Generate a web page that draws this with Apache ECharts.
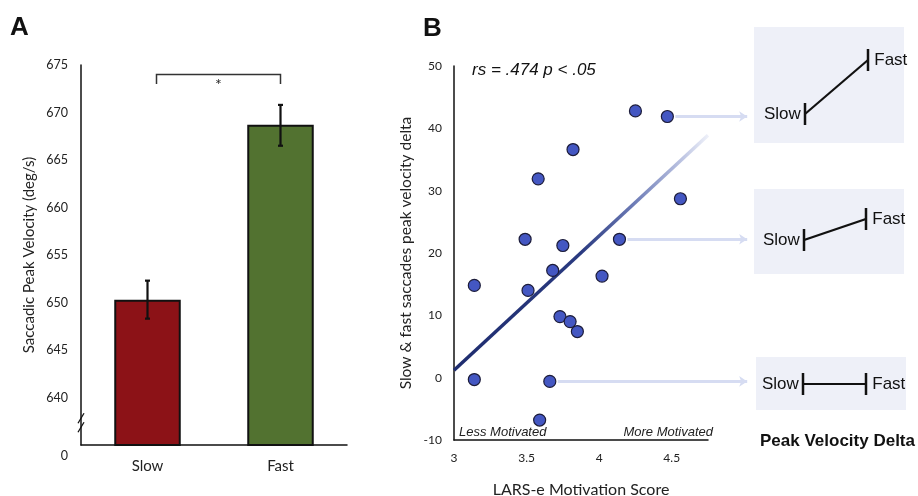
<!DOCTYPE html>
<html>
<head>
<meta charset="utf-8">
<script src="https://cdn.jsdelivr.net/npm/echarts@6/dist/echarts.min.js"></script>
<style>
  html, body { margin: 0; padding: 0; background: #fff; }
  #main { width: 918px; height: 496px; }
</style>
</head>
<body>
<div id="main"></div>
<script>
// 面板A：平均峰值速度
var groups = ['Slow', 'Fast'];
var meanVel = [650.3, 668.7];
var errLow = [648.3, 666.5];
var errHigh = [652.3, 670.8];
var barColors = ['#8c1217', '#527230'];

// 面板B：散点 (LARS-e, delta)
var scoreX = [4.25, 4.47, 3.82, 3.58, 4.56, 3.49, 3.75, 4.14, 3.68, 4.02, 3.14, 3.51, 3.73, 3.80, 3.85, 3.14, 3.66, 3.59];
var deltaY = [42.8, 41.9, 36.6, 31.9, 28.7, 22.2, 21.2, 22.2, 17.2, 16.3, 14.8, 14.0, 9.8, 9.0, 7.4, -0.3, -0.6, -6.8];
var fitLine = [[3, 1.2], [4.75, 38.9]];
var arrowFrom = [1, 7, 16];   // 指向右侧小图的点
var arrowEndX = 5.02;

// 右侧小图
var insetDeltas = [42, 22, 0];

var chart = echarts.init(document.getElementById('main'));

var pts = scoreX.map(function(x, i) { return [x, deltaY[i]]; });

var axisFont = 'Lato';
var arialFont = '"Liberation Sans", Arial, sans-serif';

// 小图 grid
var insetGrids = [
	{ left: 805, top: 60, width: 63, height: 54 },
	{ left: 804, top: 219, width: 62, height: 21 },
	{ left: 803, top: 374, width: 63, height: 20 }
];

var grids = [
	{ left: 81, top: 65, width: 266, height: 380 },
	{ left: 454, top: 66, width: 254, height: 374 }
].concat(insetGrids);
grids.forEach(function(g) { g.outerBoundsMode = 'none'; g.containLabel = false; });

var xAxes = [
	{
		gridIndex: 0, type: 'category', data: groups,
		axisTick: { show: false },
		axisLine: { lineStyle: { color: '#111', width: 1.5 } },
		axisLabel: { color: '#222', fontSize: 15, fontFamily: axisFont, margin: 14 }
	},
	{
		gridIndex: 1, type: 'value', min: 3, max: 4.75, interval: 0.5,
		splitLine: { show: false }, axisTick: { show: false },
		axisLine: { onZero: false, lineStyle: { color: '#111', width: 1.5 } },
		axisLabel: {
			color: '#222', fontSize: 12, fontFamily: axisFont, margin: 12,
			formatter: function(v) { return v > 4.6 ? '' : String(v); }
		},
		name: 'LARS-e Motivation Score', nameLocation: 'middle', nameGap: 42,
		nameTextStyle: { color: '#222', fontSize: 16, fontFamily: axisFont }
	}
];
var yAxes = [
	{
		gridIndex: 0, type: 'value', min: 635, max: 675, interval: 5,
		splitLine: { show: false }, axisTick: { show: false },
		axisLine: { show: true, lineStyle: { color: '#111', width: 1.5 } },
		axisLabel: {
			color: '#222', fontSize: 12.5, fontFamily: axisFont, margin: 13,
			formatter: function(v) { return v === 635 ? '{z|0}' : String(v); },
			rich: { z: { padding: [22, 0, 0, 0], fontSize: 12.5, fontFamily: axisFont, color: '#222' } }
		},
		name: 'Saccadic Peak Velocity (deg/s)', nameLocation: 'middle', nameGap: 44,
		nameTextStyle: { color: '#222', fontSize: 15, fontFamily: axisFont }
	},
	{
		gridIndex: 1, type: 'value', min: -10, max: 50, interval: 10,
		splitLine: { show: false }, axisTick: { show: false },
		axisLine: { show: true, lineStyle: { color: '#111', width: 1.5 } },
		axisLabel: { color: '#222', fontSize: 12, fontFamily: axisFont, margin: 12 },
		name: 'Slow & fast saccades peak velocity delta', nameLocation: 'middle', nameGap: 40,
		nameTextStyle: { color: '#222', fontSize: 15.5, fontFamily: axisFont }
	}
];

var series = [
	{
		type: 'bar', xAxisIndex: 0, yAxisIndex: 0, barWidth: '50%',
		data: meanVel.map(function(v, i) {
			return { value: v, itemStyle: { color: barColors[i] } };
		}),
		itemStyle: { borderColor: '#111', borderWidth: 2 }
	},
	{
		// 误差线
		type: 'custom', xAxisIndex: 0, yAxisIndex: 0, z: 5,
		data: groups.map(function(g, i) { return [i, errLow[i], errHigh[i]]; }),
		renderItem: function(params, api) {
			var lo = api.coord([api.value(0), api.value(1)]);
			var hi = api.coord([api.value(0), api.value(2)]);
			var st = { stroke: '#111', lineWidth: 2.2 };
			return {
				type: 'group', children: [
					{ type: 'line', shape: { x1: lo[0], y1: lo[1], x2: hi[0], y2: hi[1] }, style: st },
					{ type: 'line', shape: { x1: lo[0] - 2.5, y1: lo[1], x2: lo[0] + 2.5, y2: lo[1] }, style: st },
					{ type: 'line', shape: { x1: hi[0] - 2.5, y1: hi[1], x2: hi[0] + 2.5, y2: hi[1] }, style: st }
				]
			};
		}
	},
	{
		// 显著性括号
		type: 'custom', xAxisIndex: 0, yAxisIndex: 0, z: 5,
		data: [[0, 1, 674, 673]],
		renderItem: function(params, api) {
			var a = api.coord([api.value(0), api.value(2)]);
			var b = api.coord([api.value(1), api.value(2)]);
			var c = api.coord([api.value(0), api.value(3)]);
			var x1 = a[0] + 9;
			return {
				type: 'group', children: [
					{ type: 'polyline', shape: { points: [[x1, c[1]], [x1, a[1]], [b[0], a[1]], [b[0], c[1]]] },
					  style: { stroke: '#333', lineWidth: 1.5, fill: null } },
					{ type: 'text', style: { text: '*', x: (x1 + b[0]) / 2, y: a[1] + 2, align: 'center', verticalAlign: 'top',
					  fontSize: 16, fontFamily: axisFont, fill: '#222' } }
				]
			};
		}
	},
	{
		// 坐标轴断裂符号
		type: 'custom', xAxisIndex: 0, yAxisIndex: 0, z: 6, clip: false,
		data: [[0, 637.5]],
		renderItem: function(params, api) {
			var p = api.coord([api.value(0), api.value(1)]);
			var x = params.coordSys.x;
			var y = p[1];
			var st = { stroke: '#111', lineWidth: 1.3 };
			return {
				type: 'group', children: [
					{ type: 'line', shape: { x1: x - 3, y1: y + 2, x2: x + 3, y2: y - 8 }, style: st },
					{ type: 'line', shape: { x1: x - 3, y1: y + 11, x2: x + 3, y2: y + 1 }, style: st }
				]
			};
		}
	},
	{
		// 指示箭头
		type: 'lines', coordinateSystem: 'cartesian2d', xAxisIndex: 1, yAxisIndex: 1,
		clip: false, z: 1,
		symbol: ['none', 'arrow'], symbolSize: 8,
		lineStyle: { color: '#d6dcf2', width: 3, opacity: 1, curveness: 0 },
		data: arrowFrom.map(function(i) {
			return { coords: [[scoreX[i] + 0.055, deltaY[i]], [arrowEndX, deltaY[i]]] };
		})
	},
	{
		// 回归线
		type: 'line', xAxisIndex: 1, yAxisIndex: 1, z: 2,
		data: fitLine, symbol: 'none', silent: true,
		lineStyle: {
			width: 3.5,
			color: new echarts.graphic.LinearGradient(0, 0, 1, 0, [
				{ offset: 0, color: '#1e2c6e' },
				{ offset: 0.5, color: '#2a3a80' },
				{ offset: 0.7, color: '#6b7ab5' },
				{ offset: 0.88, color: '#b8c0e0' },
				{ offset: 1, color: '#f2f4fb' }
			])
		}
	},
	{
		type: 'scatter', xAxisIndex: 1, yAxisIndex: 1, z: 4,
		data: pts, symbolSize: 12,
		itemStyle: { color: '#4457c2', borderColor: '#1c1c3a', borderWidth: 1.2, opacity: 1 }
	}
];

insetDeltas.forEach(function(d, k) {
	xAxes.push({ gridIndex: 2 + k, type: 'category', data: groups, boundaryGap: false, show: false });
	yAxes.push({ gridIndex: 2 + k, type: 'value', min: d === 0 ? -1 : 0, max: d === 0 ? 1 : d, show: false, splitLine: { show: false } });
	series.push({
		type: 'line', xAxisIndex: 2 + k, yAxisIndex: 2 + k, z: 3,
		symbol: 'rect', symbolSize: [2.5, 22], showAllSymbol: true,
		itemStyle: { color: '#111' },
		lineStyle: { color: '#111', width: 2.2 },
		data: [
			{ value: 0, label: { show: true, position: 'left', distance: 3, formatter: 'Slow' } },
			{ value: d, label: { show: true, position: 'right', distance: 5, formatter: 'Fast' } }
		],
		label: { color: '#111', fontSize: 17, fontFamily: arialFont }
	});
});

var insetBoxes = [[754, 27, 150, 116], [754, 189, 150, 85], [756, 357, 150, 53]];

var graphics = [
	{ type: 'text', left: 10, top: 15, style: { text: 'A', fontSize: 26, fontWeight: 'bold', fontFamily: arialFont, fill: '#111' } },
	{ type: 'text', left: 423, top: 16, style: { text: 'B', fontSize: 26, fontWeight: 'bold', fontFamily: arialFont, fill: '#111' } },
	{ type: 'text', left: 472, top: 62, style: { text: 'rs = .474 p < .05', fontSize: 17, fontStyle: 'italic', fontFamily: arialFont, fill: '#111' } },
	{ type: 'text', left: 459, top: 426, style: { text: 'Less Motivated', fontSize: 13, fontStyle: 'italic', fontFamily: arialFont, fill: '#222' } },
	{ type: 'text', right: 205, top: 426, style: { text: 'More Motivated', fontSize: 13, fontStyle: 'italic', fontFamily: arialFont, fill: '#222' } },
	{ type: 'text', left: 760, top: 433, style: { text: 'Peak Velocity Delta', fontSize: 17, fontWeight: 'bold', fontFamily: arialFont, fill: '#111' } }
];
insetBoxes.forEach(function(b) {
	graphics.push({ type: 'rect', z: -1, shape: { x: b[0], y: b[1], width: b[2], height: b[3] }, style: { fill: '#eef0f8' } });
});

chart.setOption({
	animation: false,
	grid: grids,
	xAxis: xAxes,
	yAxis: yAxes,
	graphic: graphics,
	series: series
});
</script>
</body>
</html>
